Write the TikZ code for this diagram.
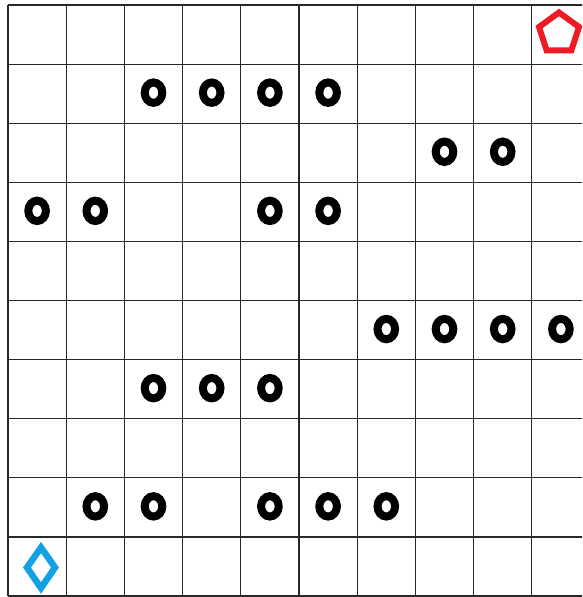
\documentclass[tikz,border=0pt]{standalone}
\usetikzlibrary{shapes.geometric}
\definecolor{gridc}{RGB}{40,40,40}
\definecolor{penred}{RGB}{237,28,36}
\definecolor{diacyan}{RGB}{20,160,228}
\begin{document}
\begin{tikzpicture}[x=1pt,y=-1pt,
  gridline/.style={draw=gridc,line width=1.2pt},
  ring/.style={draw=black,line width=8pt},
  pent/.style={draw=penred,line width=6pt,line join=miter},
  dia/.style={draw=diacyan,line width=6.5pt,line join=miter}]
\useasboundingbox (0,0) rectangle (582,597);
\fill[white] (0,0) rectangle (582,597);
\clip (0,0) rectangle (582,597);
% grid
\foreach \i in {0,...,10} {
  \draw[gridline] ({8+58.2*\i},5) -- ({8+58.2*\i},596);
  \draw[gridline] (8,{5+59.1*\i}) -- (592,{5+59.1*\i});
}
% rings: row/col
\foreach \r/\c in {1/2,1/3,1/4,1/5, 2/7,2/8, 3/0,3/1,3/4,3/5, 5/6,5/7,5/8,5/9, 6/2,6/3,6/4, 8/1,8/2,8/4,8/5,8/6} {
  \draw[ring] ({8+58.2*(\c+0.5)},{5+59.1*(\r+0.5)-1}) ellipse [x radius=8.8, y radius=10.2];
}
% pentagon
\draw[pent] (559,33.5) +(90:-21) -- +(162:-21) -- +(234:-21) -- +(306:-21) -- +(18:-21) -- cycle;
% diamond
\draw[dia] (41,547.5) -- (55,567.5) -- (41,588) -- (27,567.5) -- cycle;
\end{tikzpicture}
\end{document}
